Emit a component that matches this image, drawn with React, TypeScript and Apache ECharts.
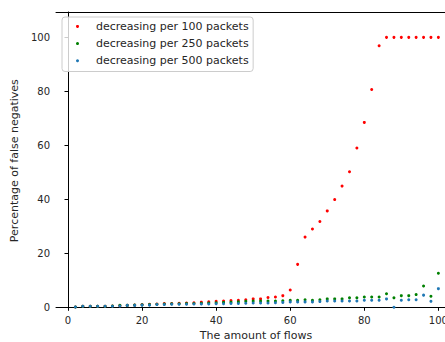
import React, { useEffect, useRef } from "react";
import * as echarts from "echarts";

const flows = [
  2, 4, 6, 8, 10, 12, 14, 16, 18, 20, 22, 24, 26, 28, 30, 32, 34, 36, 38, 40, 42, 44, 46, 48, 50,
  52, 54, 56, 58, 60, 62, 64, 66, 68, 70, 72, 74, 76, 78, 80, 82, 84, 86, 88, 90, 92, 94, 96, 98, 100,
];

const per100 = [
  0.1, 0.4, 0.4, 0.4, 0.4, 0.5, 0.6, 0.7, 0.8, 1.0, 1.1, 1.2, 1.4, 1.4, 1.5, 1.6, 1.7, 1.9, 2.0, 2.2,
  2.3, 2.5, 2.6, 2.8, 3.1, 3.1, 3.6, 3.8, 4.3, 6.4, 15.9, 26.0, 29.0, 31.8, 35.7, 39.9, 44.9, 50.2,
  59.0, 68.5, 80.7, 96.9, 100, 100, 100, 100, 100, 100, 100, 100,
];

const per250 = [
  0.1, 0.4, 0.4, 0.4, 0.4, 0.5, 0.7, 0.7, 0.8, 0.9, 1.0, 1.1, 1.2, 1.3, 1.3, 1.4, 1.4, 1.5, 1.6, 1.7,
  1.8, 1.9, 2.0, 2.2, 2.3, 2.3, 2.3, 2.3, 2.4, 2.6, 2.6, 2.8, 2.6, 2.8, 3.1, 3.1, 3.1, 3.5, 3.5, 3.8,
  3.8, 3.8, 5.0, 3.5, 4.3, 4.3, 4.7, 7.9, 4.1, 12.6,
];

const per500 = [
  0.1, 0.4, 0.4, 0.4, 0.4, 0.4, 0.5, 0.7, 0.7, 0.8, 0.8, 1.0, 1.0, 1.1, 1.1, 1.1, 1.2, 1.2, 1.2, 1.3,
  1.3, 1.4, 1.4, 1.5, 1.6, 1.6, 1.6, 1.7, 1.8, 2.0, 2.0, 2.0, 2.0, 2.1, 2.3, 2.3, 2.3, 2.3, 2.3, 2.6,
  2.6, 2.6, 3.1, 0.0, 2.6, 2.8, 2.8, 4.5, 2.2, 6.9,
];

const seriesNames = [
  "decreasing per 100 packets",
  "decreasing per 250 packets",
  "decreasing per 500 packets",
];
const seriesColors = ["#ff0000", "#008000", "#1f77b4"];
const seriesValues = [per100, per250, per500];

const xTicks = [0, 20, 40, 60, 80, 100];
const yTicks = [0, 20, 40, 60, 80, 100];

const FONT = "DejaVu Sans";
const TXT = "#262626";

export default function App() {
  const ref = useRef<HTMLDivElement>(null);

  useEffect(() => {
    const chart = echarts.init(ref.current!, null, { renderer: "svg" });
    const axisLine = { show: true, lineStyle: { color: "#000", width: 1 } };
    chart.setOption({
      animation: false,
      backgroundColor: "#fff",
      grid: {
        left: 56,
        top: 12,
        right: -11,
        bottom: 32.7,
        containLabel: false,
        outerBoundsMode: "none",
      },
      legend: {
        orient: "vertical",
        left: 62,
        top: 17,
        icon: "circle",
        itemWidth: 3,
        itemHeight: 3,
        itemGap: 4.2,
        padding: [2.9, 4.5, 4.2, 14],
        backgroundColor: "rgba(255,255,255,0.8)",
        borderColor: "#cccccc",
        borderWidth: 1,
        borderRadius: 3,
        textStyle: {
          fontFamily: FONT,
          fontSize: 11,
          lineHeight: 13,
          color: TXT,
          padding: [0, 0, 0, 12],
        },
        data: seriesNames,
      },
      xAxis: [
        {
          type: "value",
          min: -3.24,
          max: 104.76,
          position: "bottom",
          axisLine,
          axisTick: {
            show: true,
            length: 3.5,
            customValues: xTicks,
            lineStyle: { color: "#000", width: 1 },
          },
          axisLabel: {
            customValues: xTicks,
            margin: 6,
            fontFamily: FONT,
            fontSize: 10,
            color: TXT,
          },
          splitLine: { show: false },
          name: "The amount of flows",
          nameLocation: "middle",
          nameGap: 21,
          nameTextStyle: { fontFamily: FONT, fontSize: 11, color: TXT },
        },
        {
          type: "value",
          min: -3.24,
          max: 104.76,
          position: "top",
          axisLine,
          axisTick: { show: false },
          axisLabel: { show: false },
          splitLine: { show: false },
        },
      ],
      yAxis: {
        type: "value",
        min: -0.75,
        max: 109.4,
        axisLine,
        axisTick: {
          show: true,
          length: 3.5,
          customValues: yTicks,
          lineStyle: { color: "#000", width: 1 },
        },
        axisLabel: {
          customValues: yTicks,
          margin: 6,
          fontFamily: FONT,
          fontSize: 10,
          color: TXT,
        },
        splitLine: { show: false },
        name: "Percentage of false negatives",
        nameLocation: "middle",
        nameGap: 34,
        nameTextStyle: { fontFamily: FONT, fontSize: 11, color: TXT },
      },
      series: seriesNames.map((name, k) => ({
        name,
        type: "scatter",
        xAxisIndex: 0,
        symbol: "circle",
        symbolSize: 3,
        itemStyle: { color: seriesColors[k], opacity: 1 },
        data: flows.map((x, i) => [x, seriesValues[k][i]]),
      })),
    });
    return () => chart.dispose();
  }, []);

  return (
    <div
      ref={ref}
      style={{ position: "fixed", left: 0, top: 0, width: 445, height: 342 }}
    />
  );
}
